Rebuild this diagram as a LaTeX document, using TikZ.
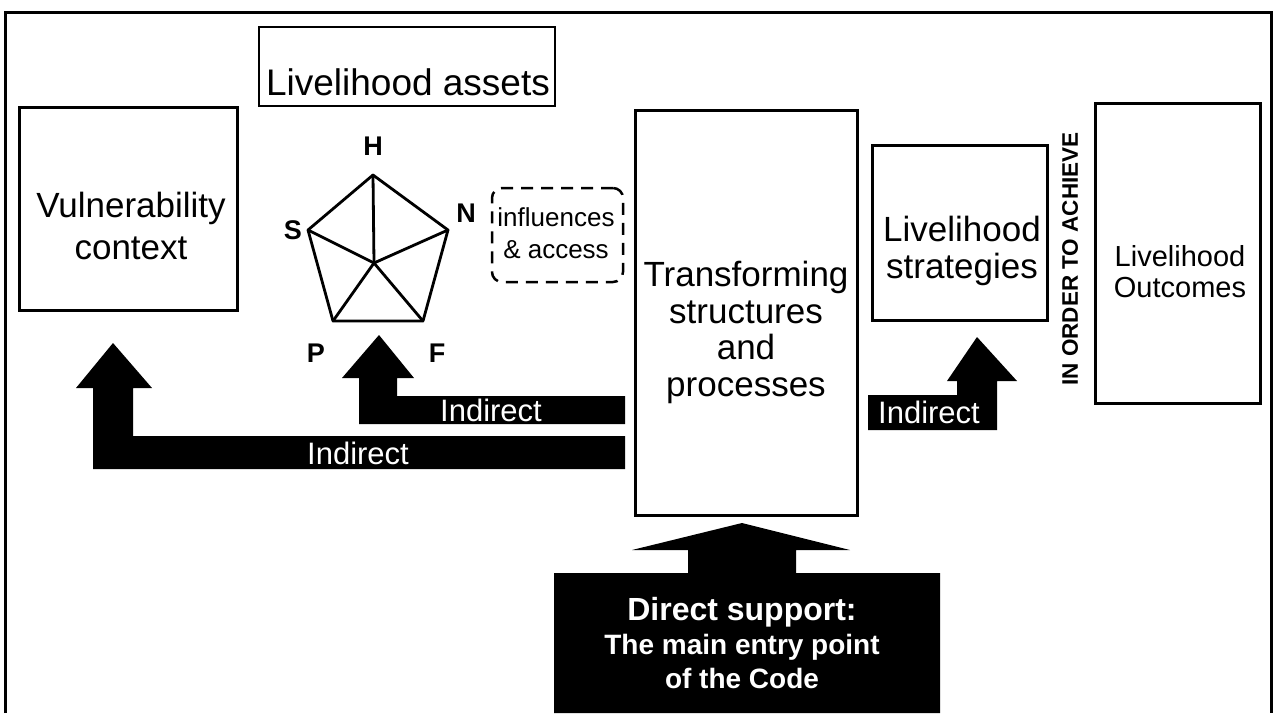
\documentclass[tikz,border=0pt]{standalone}
\usepackage{fontspec}
\setmainfont{Liberation Sans}
\begin{document}
\begin{tikzpicture}[x=1pt,y=-1pt,
  frame/.style={line width=3pt},
  box/.style={draw, line width=3pt, rectangle, inner sep=0pt},
  thinbox/.style={draw, line width=2pt, rectangle, inner sep=0pt},
  txt/.style={inner sep=0pt, align=center},
  big/.style={font=\fontsize{35}{36.5}\selectfont},
  corner/.style={inner sep=0pt, font=\fontsize{27}{27}\selectfont\bfseries},
  blockarrow/.style={fill=black, draw=none},
  indirect/.style={inner sep=0pt, text=white, font=\fontsize{31}{31}\selectfont},
  spoke/.style={line width=2.8pt, line join=round, line cap=round}
]
\useasboundingbox (0,0) rectangle (1275,713);
% outer frame
\draw[frame] (5,713) -- (5,12) -- (1271,12) -- (1271,713);

% boxes
\node[box, minimum width=218pt, minimum height=203pt] (vul) at (128,208.5) {};
\node[thinbox, minimum width=296pt, minimum height=79pt] (assets) at (407,66.5) {};
\node[box, minimum width=222pt, minimum height=405pt] (trans) at (746,312.5) {};
\node[box, minimum width=175pt, minimum height=175pt] (strat) at (959.5,232.5) {};
\node[box, minimum width=165pt, minimum height=300pt] (outc) at (1177.5,253) {};

% texts
\node[txt, font=\fontsize{35}{42}\selectfont] (vultxt) at (131,226) {Vulnerability\\context};
\node[txt, font=\fontsize{37}{37}\selectfont] (assetstxt) at (408,82.5) {Livelihood assets};
\node[txt, big] (transtxt) at (746,332.5) {Transforming\\structures\\and\\processes};
\node[txt, big] (strattxt) at (962,251) {Livelihood\\strategies};
\node[txt, font=\fontsize{29}{31}\selectfont] (outctxt) at (1180,272) {Livelihood\\Outcomes};
\node[txt, rotate=90, font=\fontsize{22.5}{22.5}\selectfont\bfseries] (achieve) at (1070,259) {IN ORDER TO ACHIEVE};

% dashed influences box
\node[draw, dashed, dash pattern=on 12pt off 8pt, line width=2.5pt, rounded corners=10pt,
      minimum width=131pt, minimum height=94pt, inner sep=0pt] (infl) at (557.5,235) {};
\node[txt, font=\fontsize{26}{32}\selectfont] (infltxt) at (556,233) {influences\\\& access};

% pentagon
\coordinate (H) at (373,175);
\coordinate (S) at (308,230);
\coordinate (N) at (448,230);
\coordinate (P) at (333,321);
\coordinate (F) at (423,321);
\coordinate (C) at (374,263);
\draw[spoke] (H) -- (N) -- (F) -- (P) -- (S) -- cycle;
\foreach \v in {H,S,N,P,F} \draw[spoke] (C) -- (\v);
\node[corner] (Hl) at (373,146) {H};
\node[corner] (Sl) at (293,230) {S};
\node[corner] (Nl) at (466,213) {N};
\node[corner] (Pl) at (316,353) {P};
\node[corner] (Fl) at (437,353) {F};

% block arrows
\fill[blockarrow] (113,343) -- (152,388) -- (133,388) -- (133,436) -- (625,436)
  -- (625,469) -- (93,469) -- (93,388) -- (76,388) -- cycle;
\fill[blockarrow] (379,335) -- (414,378) -- (397,378) -- (397,396) -- (625,396)
  -- (625,424) -- (359,424) -- (359,378) -- (342,378) -- cycle;
\fill[blockarrow] (977,337) -- (1017,381) -- (997,381) -- (997,430) -- (868,430)
  -- (868,395) -- (957,395) -- (957,381) -- (947,381) -- cycle;
\fill[blockarrow] (554,713) -- (554,573) -- (688,573) -- (688,550) -- (632,550)
  -- (742,523) -- (850,550) -- (796,550) -- (796,573) -- (940,573) -- (940,713) -- cycle;

\node[indirect] (ind1) at (358,453) {Indirect};
\node[indirect] (ind2) at (491,410) {Indirect};
\node[indirect] (ind3) at (929,412) {Indirect};

\node[txt, text=white, font=\fontsize{28}{34}\selectfont\bfseries] (direct) at (742,643)
  {{\fontsize{32}{34}\selectfont Direct support:}\\
   The main entry point\\
   of the Code};
\end{tikzpicture}
\end{document}
